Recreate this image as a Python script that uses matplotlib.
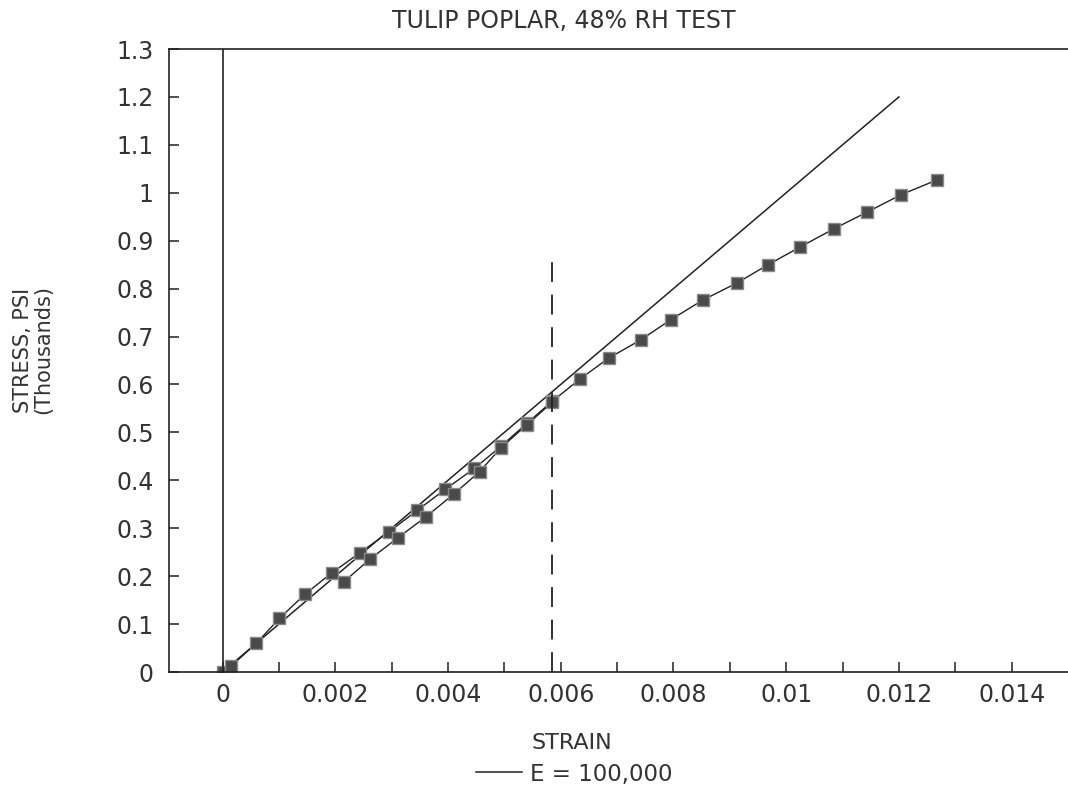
import matplotlib
matplotlib.use("Agg")
import matplotlib.pyplot as plt
from matplotlib.ticker import FixedLocator

# strain / stress (thousands of psi) readings
strain_a = [0.0, 0.00015, 0.0006, 0.00101, 0.00146, 0.00194, 0.00244, 0.00296,
            0.00345, 0.00395, 0.00447, 0.00494, 0.0054, 0.00585, 0.00635, 0.00685,
            0.00742, 0.00795, 0.00852, 0.00913, 0.00968, 0.01025, 0.01085, 0.01144,
            0.01204, 0.01268]
stress_a = [0.0, 0.012, 0.06, 0.112, 0.162, 0.207, 0.249, 0.293, 0.337, 0.381,
            0.425, 0.471, 0.519, 0.565, 0.612, 0.655, 0.693, 0.735, 0.776, 0.812,
            0.85, 0.887, 0.925, 0.96, 0.996, 1.027]

strain_b = [0.00215, 0.00262, 0.00311, 0.00361, 0.00411, 0.00456, 0.00494, 0.0054, 0.00585]
stress_b = [0.188, 0.236, 0.28, 0.324, 0.372, 0.418, 0.468, 0.516, 0.563]

E = 100000            # psi
e_strain = [0.0, 0.012]
prop_limit = 0.00585  # strain at proportional limit
prop_top = 0.877

xticks = [0, 0.002, 0.004, 0.006, 0.008, 0.01, 0.012, 0.014]
xlabels = ["0", "0.002", "0.004", "0.006", "0.008", "0.01", "0.012", "0.014"]
xminor = [0.001, 0.003, 0.005, 0.007, 0.009, 0.011, 0.013]
yticks = [round(0.1 * i, 1) for i in range(14)]
ylabels = ["0", "0.1", "0.2", "0.3", "0.4", "0.5", "0.6", "0.7", "0.8", "0.9",
           "1", "1.1", "1.2", "1.3"]

ink = "#222222"
txt = "#333333"
plt.rcParams["font.family"] = ["DejaVu Sans"]

fig = plt.figure(figsize=(10.68, 7.87), dpi=100)
ax = fig.add_axes([169 / 1068, 115 / 787, 899 / 1068, 623 / 787])

# straight line for E = 100,000
e_stress = [E * s / 1000 for s in e_strain]
eline, = ax.plot(e_strain, e_stress, color=ink, lw=1.1)

for xs, ys in [(strain_a, stress_a), (strain_b, stress_b)]:
    ax.plot(xs, ys, color=ink, lw=1.0, marker="s", markersize=8,
            markerfacecolor="#4a4a4a", markeredgecolor="#8a8a8a", markeredgewidth=1)

ax.axvline(0, color=ink, lw=1.2)
ax.plot([prop_limit, prop_limit], [0, prop_top], color=ink, lw=1.3,
        dashes=(11, 7))

ax.set_xlim(-0.00095, 0.015)
ax.set_ylim(0, 1.3)
ax.spines["right"].set_visible(False)
for s in ["left", "top", "bottom"]:
    ax.spines[s].set_color(ink)
    ax.spines[s].set_linewidth(1.2)

ax.set_xticks(xticks)
ax.set_xticklabels(xlabels)
ax.xaxis.set_minor_locator(FixedLocator(xminor))
ax.set_yticks(yticks)
ax.set_yticklabels(ylabels)
ax.tick_params(axis="both", which="both", direction="in", length=7, width=1.1,
               color=ink, labelcolor=txt, labelsize=17)
ax.tick_params(axis="x", pad=8)
ax.tick_params(axis="y", pad=11)

fig.text(564 / 1068, 1 - 21 / 787, "TULIP POPLAR, 48% RH TEST", ha="center",
         va="center", fontsize=17, color=txt)
fig.text(572 / 1068, 1 - 743 / 787, "STRAIN", ha="center", va="center",
         fontsize=16, color=txt)
fig.text(33 / 1068, 1 - 350 / 787, "STRESS, PSI\n(Thousands)", ha="center",
         va="center", rotation=90, fontsize=15, color=txt, linespacing=1.0)

fig.legend([eline], ["E = 100,000"], loc="center",
           bbox_to_anchor=(574 / 1068, 1 - 774 / 787), frameon=False,
           fontsize=16.5, handlelength=2.0, handletextpad=0.35, labelcolor=txt)

fig.savefig("out.png", dpi=100)
